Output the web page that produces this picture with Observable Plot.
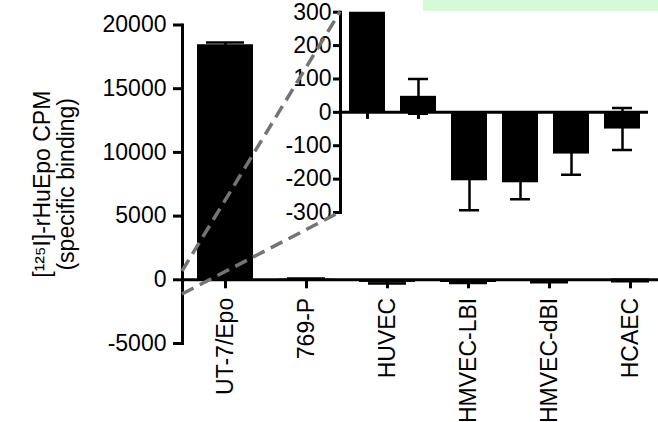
<!DOCTYPE html>
<html><head><meta charset="utf-8">
<script src="https://cdn.jsdelivr.net/npm/d3@7"></script>
<script src="https://cdn.jsdelivr.net/npm/@observablehq/plot@0.6"></script>
<style>
html,body{margin:0;padding:0;background:#fff;}
#wrap{position:relative;width:658px;height:422px;overflow:hidden;background:#fff;}
#wrap > svg{position:absolute;left:0;top:0;}
#banner{position:absolute;left:423px;top:0;width:235px;height:11px;background:#d4fad6;z-index:5;}
</style></head><body><div id="wrap"><div id="banner"></div></div>
<script>
const categories = ["UT-7/Epo", "769-P", "HUVEC", "HMVEC-LBI", "HMVEC-dBI", "HCAEC"];
const means = [18450, 48, -205, -211, -125, -50];
const sems = [170, 52, 88, 49, 62, 63];
const mainTicks = [-5000, 0, 5000, 10000, 15000, 20000];
const insetTicks = [-300, -200, -100, 0, 100, 200, 300];
const zoomFrom = [650, -1150];
const zoomTo = [300, -300];
const yLabel = "[¹²⁵I]-rHuEpo CPM\n(specific binding)";

const data = categories.map((c, i) => ({cat: c, mean: means[i], lo: means[i] - sems[i], hi: means[i] + sems[i]}));
const font = {fontFamily: '"Liberation Sans", Arial, Helvetica, sans-serif', fontSize: "23px", background: "transparent", overflow: "visible", color: "black"};
const fmt = d => String(d);

const main = Plot.plot({
  width: 658, height: 422,
  marginLeft: 182, marginRight: 0, marginTop: 24.5, marginBottom: 79,
  style: font,
  x: {domain: categories, range: [182, 672], paddingInner: 0.31, paddingOuter: 0.16, axis: null},
  y: {domain: [-5000, 20000], axis: null},
  marks: [
    Plot.barY(data, {x: "cat", y: "mean", fill: "black"}),
    Plot.ruleX(data, {x: "cat", y1: "lo", y2: "hi", stroke: "black", strokeWidth: 2.5}),
    Plot.tickY(data, {x: "cat", y: "hi", stroke: "black", strokeWidth: 2.5, inset: 9}),
    Plot.tickY(data, {x: "cat", y: "lo", stroke: "black", strokeWidth: 2.5, inset: 9}),
    Plot.ruleY([0], {stroke: "black", strokeWidth: 3}),
    Plot.frame({anchor: "left", stroke: "black", strokeWidth: 3}),
    Plot.axisY({ticks: mainTicks, tickFormat: fmt, tickSize: 9, tickPadding: 7, strokeWidth: 3, fontSize: 23}),
    Plot.ruleX(categories, {x: d => d, y1: 0, y2: 0, insetBottom: -9, stroke: "black", strokeWidth: 3}),
    Plot.text(categories, {x: d => d, y: 0, text: d => d, rotate: -90, textAnchor: "end", dy: 18, fontSize: 23}),
    Plot.text([yLabel], {frameAnchor: "left", text: d => d, rotate: -90, textAnchor: "middle", lineAnchor: "middle", dx: -128, lineHeight: 1.05, fontSize: 23})
  ]
});

const inset = Plot.plot({
  width: 658, height: 422,
  marginLeft: 340, marginRight: 10, marginTop: 11.7, marginBottom: 210,
  style: font,
  x: {domain: categories, paddingInner: 0.3, paddingOuter: 0.16, axis: null},
  y: {domain: [-300, 300], axis: null},
  marks: [
    Plot.barY(data, {x: "cat", y: "mean", fill: "black", clip: true}),
    Plot.ruleX(data, {x: "cat", y1: "lo", y2: "hi", stroke: "black", strokeWidth: 2.5, clip: true}),
    Plot.tickY(data, {x: "cat", y: "hi", stroke: "black", strokeWidth: 2.5, inset: 8, clip: true}),
    Plot.tickY(data, {x: "cat", y: "lo", stroke: "black", strokeWidth: 2.5, inset: 8, clip: true}),
    Plot.ruleY([0], {stroke: "black", strokeWidth: 3}),
    Plot.frame({anchor: "left", stroke: "black", strokeWidth: 3}),
    Plot.axisY({ticks: insetTicks, tickFormat: fmt, tickSize: 7, tickPadding: 2, strokeWidth: 3, fontSize: 23}),
    Plot.ruleX(categories, {x: d => d, y1: 0, y2: 0, insetBottom: -7, stroke: "black", strokeWidth: 3})
  ]
});

const wrap = document.getElementById("wrap");
wrap.appendChild(main);
wrap.appendChild(inset);

const my = main.scale("y"), mx = main.scale("x");
const iy = inset.scale("y"), ix = inset.scale("x");
const mx0 = mx.range[0], ix0 = ix.range[0];
const overlay = d3.create("svg").attr("width", 658).attr("height", 422);
overlay.selectAll("line").data(zoomFrom).join("line")
  .attr("x1", mx0).attr("y1", d => my.apply(d))
  .attr("x2", ix0).attr("y2", (d, i) => iy.apply(zoomTo[i]))
  .attr("stroke", "#747474").attr("stroke-width", 3.5).attr("stroke-dasharray", "13,7");
wrap.appendChild(overlay.node());
</script></body></html>
